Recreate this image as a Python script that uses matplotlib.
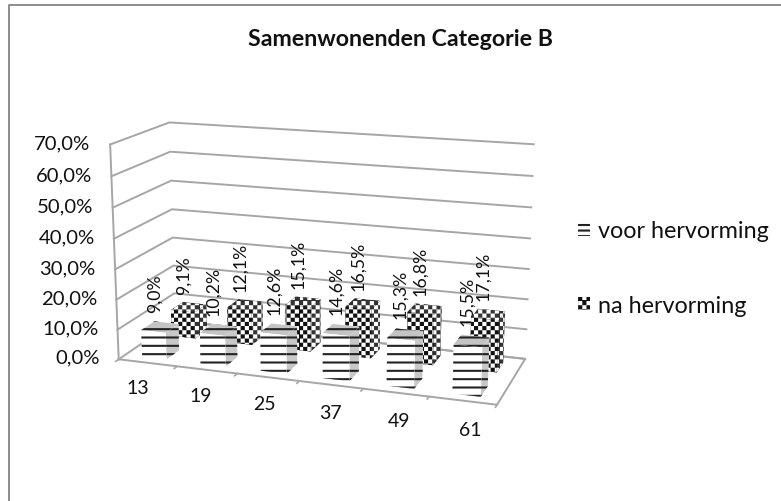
import matplotlib
matplotlib.use("Agg")
import matplotlib.pyplot as plt
from matplotlib import hatch as mhatch
from matplotlib.path import Path
from matplotlib.lines import Line2D
from matplotlib.patches import Patch
from mpl_toolkits.mplot3d import proj3d

plt.rcParams['font.family'] = ['Lato', 'DejaVu Sans']
plt.rcParams['hatch.linewidth'] = 1.5

categories = ['13', '19', '25', '37', '49', '61']
voor = [9.0, 10.2, 12.6, 14.6, 15.3, 15.5]
na = [9.1, 12.1, 15.1, 16.5, 16.8, 17.1]
voor_labels = ['9,0%', '10,2%', '12,6%', '14,6%', '15,3%', '15,5%']
na_labels = ['9,1%', '12,1%', '15,1%', '16,5%', '16,8%', '17,1%']
z_ticks = [0, 10, 20, 30, 40, 50, 60, 70]
z_labels = ['0,0%', '10,0%', '20,0%', '30,0%', '40,0%', '50,0%', '60,0%', '70,0%']

W, H = 781, 502
GRID = '#a6a6a6'
TXT = '#111111'


class Checker(mhatch.HatchPatternBase):
    """Checkerboard hatch, used in place of the small filled dots."""

    def __init__(self, hatch, density):
        self.n = hatch.count('.') * density
        self.num_vertices = 2 * self.n * self.n * 5

    def set_vertices_and_codes(self, vertices, codes):
        if not self.n:
            return
        cell = 1.0 / (2 * self.n)
        w = cell * 0.5
        k = 0
        for i in range(2 * self.n):
            for j in range(2 * self.n):
                if (i + j) % 2:
                    continue
                x, y = i * cell, j * cell
                vertices[k:k + 5] = [(x, y), (x + w, y), (x + w, y + w), (x, y + w), (x, y)]
                codes[k:k + 5] = [Path.MOVETO, Path.LINETO, Path.LINETO, Path.LINETO, Path.CLOSEPOLY]
                k += 5


mhatch._hatch_types[:] = [Checker if t is mhatch.SmallFilledCircles else t for t in mhatch._hatch_types]

fig = plt.figure(figsize=(W / 100, H / 100), dpi=100, facecolor='white')
S = 781
x0, y0 = -79, -154
ax = fig.add_axes([x0 / W, y0 / H, S / W, S / H], projection='3d')
ax.patch.set_alpha(0)
ax.set_proj_type('persp', focal_length=0.33)
ax.view_init(elev=15, azim=-71)
ax.set_box_aspect((388, 135, 220), zoom=0.585)
ax.set_xlim(0, 6)
ax.set_ylim(0, 2)
ax.set_zlim(0, 70)
ax.set_axis_off()


def label(x, y, z, s, **kw):
    px, py, _ = proj3d.proj_transform(x, y, z, ax.get_proj())
    return ax.text2D(px, py, s, transform=ax.transData, color=TXT, clip_on=False, **kw)


nx = len(categories)
for z in z_ticks:
    ax.plot([0, 0, nx], [0, 2, 2], [z, z, z], color=GRID, lw=1.4, zorder=1)
ax.plot([0, nx, nx, 0], [0, 0, 2, 2], [0, 0, 0, 0], color=GRID, lw=1.4)
ax.plot([0, 0], [0, 0], [0, 70], color=GRID, lw=1.4)
for i in range(nx + 1):
    ax.plot([i, i], [0, -0.1], [0, 0], color=GRID, lw=1.2)

for i, lab in enumerate(categories):
    label(i + 0.85, -1.0, 0, lab, fontsize=14, ha='center', va='center')
for z, lab in zip(z_ticks, z_labels):
    label(-0.33, 0, z, lab, fontsize=14.6, ha='right', va='center')

bw, bd = 0.42, 0.45
na_faces = ['#111111', '#333333', '#111111', '#111111', '#111111', '#333333']
voor_faces = ['#ffffff', '#c4c4c4', '#ffffff', '#ffffff', '#ffffff', '#c8c8c8']
for i in reversed(range(nx)):
    b = ax.bar3d(i + 0.5 - bw / 2, 1.5 - bd / 2, 0, bw, bd, na[i], color=na_faces,
                 edgecolor='white', linewidth=0, shade=False)
    b.set_hatch('..')
    label(i + 0.42, 1.5, na[i] + 4.5, na_labels[i], rotation=90, fontsize=12.8,
          ha='center', va='bottom')
for i in reversed(range(nx)):
    b = ax.bar3d(i + 0.5 - bw / 2, 0.45 - bd / 2, 0, bw, bd, voor[i], color=voor_faces,
                 edgecolor='#222222', linewidth=0, shade=False)
    b.set_hatch('--')
    label(i + 0.42, 0.45, voor[i] + 5, voor_labels[i], rotation=90, fontsize=12.8,
          ha='center', va='bottom')

frame_x = 8.5 / W
frame_y = 1 - 5.5 / H
fig.add_artist(Line2D([frame_x, frame_x, 1], [0, frame_y, frame_y], transform=fig.transFigure,
                      color='#8c8c8c', lw=1.4))
fig.text(401 / W, 1 - 40 / H, 'Samenwonenden Categorie B', fontsize=16.7, fontweight='bold',
         color=TXT, ha='center', va='center')

handles = [Patch(facecolor='white', edgecolor='#222222', hatch='---', lw=0, label='voor hervorming'),
           Patch(facecolor='#111111', edgecolor='white', hatch='..', lw=0, label='na hervorming')]
fig.legend(handles=handles, loc='center left', bbox_to_anchor=(557 / W, 1 - 269 / H), frameon=False,
           fontsize=16.8, handlelength=0.5, handleheight=0.5, handletextpad=0.35, labelspacing=2.3,
           labelcolor=TXT)

fig.savefig('out.png', dpi=100)
